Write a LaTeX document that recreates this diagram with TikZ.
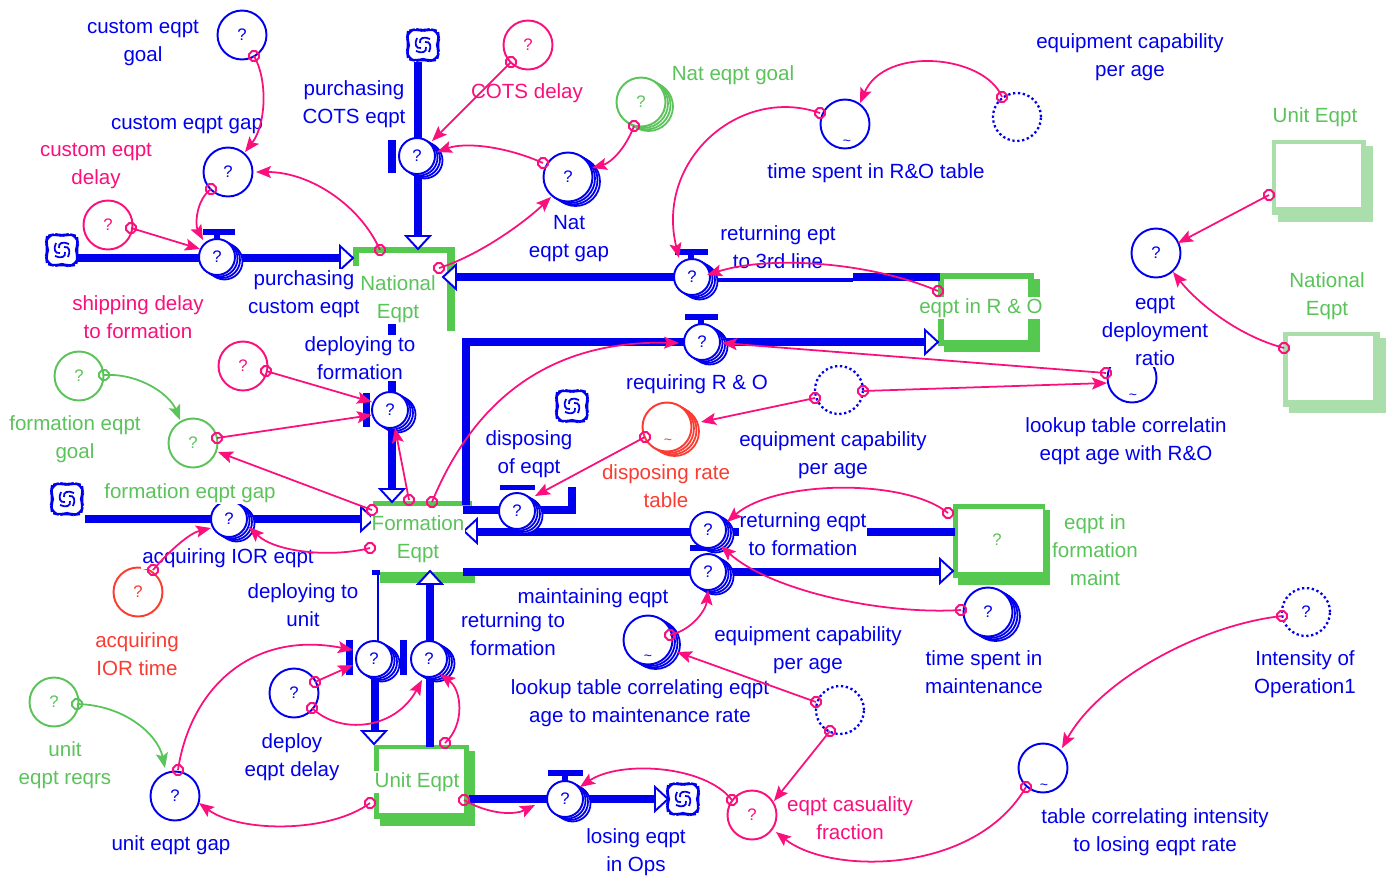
\documentclass[tikz,border=0pt]{standalone}
\usepackage{fontspec}
\setmainfont{Liberation Sans}
\usetikzlibrary{arrows.meta,shapes.symbols,shapes.geometric}
\definecolor{vblue}{RGB}{0,0,238}
\definecolor{vpink}{RGB}{250,15,125}
\definecolor{vgreen}{RGB}{85,200,80}
\definecolor{tgreen}{RGB}{90,195,90}
\definecolor{vred}{RGB}{250,60,50}
\definecolor{ghost}{RGB}{170,222,170}
\newcommand{\lblfont}{\fontsize{11.7}{15.9}\selectfont}
\newcommand{\qfont}{\fontsize{9.5}{10}\selectfont}
\newcommand{\tfont}{\fontsize{8}{8}\selectfont}
\tikzset{
  auxc/.style={circle,draw=#1,text=#1,line width=1.1pt,fill=white,minimum size=0.98cm,inner sep=0pt,font=\qfont},
  valvec/.style={circle,draw=vblue,text=vblue,line width=1.1pt,fill=white,minimum size=0.72cm,inner sep=0pt,font=\qfont},
  dotc/.style={circle,draw=vblue,text=vblue,line width=1.3pt,dash pattern=on 1.3pt off 1.5pt,minimum size=0.96cm,inner sep=0pt,font=\qfont},
  shadowc/.style={circle,draw=#1,line width=1pt,fill=white,inner sep=0pt},
  lbl/.style={align=center,font=\lblfont,text=#1,fill=white,inner sep=0.6pt},
  pipe/.style={draw=vblue,line width=4.6pt},
  conn/.style={draw=#1,line width=1pt,-{Stealth[length=0.3cm,width=0.24cm,inset=0.06cm]}},
  orig/.style={regular polygon,regular polygon sides=8,draw=#1,line width=1.1pt,minimum size=0.21cm,inner sep=0pt},
  tild/.style={font=\tfont,text=#1,inner sep=0pt},
  parrow/.pic={\draw[vblue,line width=1.1pt,fill=white,line join=miter] (-13,-12) -- (0,0) -- (-13,12) -- cycle;},
  cloudp/.pic={\draw[vblue,line width=1.2pt,fill=white,rounded corners=4pt] (-15,-14) -- (-7,-16) -- (0,-14) -- (7,-16) -- (15,-14) -- (16,-6) -- (14,0) -- (16,7) -- (14,15) -- (6,16) -- (0,14) -- (-7,16) -- (-15,14) -- (-16,6) -- (-14,0) -- (-16,-7) -- cycle;
    \foreach \ang in {0,90,180,270}{\draw[vblue,line width=1pt,rotate=\ang] (2,-3) .. controls (7,-4) and (9,1) .. (6,7);}},
}
\newcommand{\stk}[4]{\foreach \xa/\ya in {7.5/4.5,5/3,2.5/1.5}{\node[shadowc=#3,minimum size=#4] at (#1+\xa,#2+\ya) {};}}
\newcommand{\conx}[5][vpink]{\coordinate (#2s) at (#3);\coordinate (#2e) at (#5);\draw[conn=#1] (#2s) #4 (#2e);\node[orig=#1] (#2o) at (#2s) {};}

\begin{document}
\begin{tikzpicture}[x=0.02cm,y=-0.02cm]
\useasboundingbox (0,0) rectangle (1400,880);
\fill[white] (0,0) rectangle (1400,880);

% ---------- stocks ----------
% National Eqpt
\fill[vgreen] (353,247) rectangle (452,253);
\fill[vgreen] (447,247) rectangle (455,331);
\fill[vgreen] (353,247) rectangle (359,266);
% eqpt in R & O
\fill[vgreen] (938,273) rectangle (1034,346);
\fill[vgreen] (944,279) rectangle (1040,352);
\fill[white] (944,279) rectangle (1028,340);
% Formation Eqpt
\fill[vgreen] (373,501) rectangle (472,506);
\fill[vgreen] (380,572) rectangle (475,583);
% eqpt in formation maint
\fill[vgreen] (953,504) rectangle (1045,578);
\fill[vgreen] (958,510) rectangle (1050,585);
\fill[white] (958,509) rectangle (1043,572);
\node[text=tgreen,font=\qfont] (smaintq) at (997,540) {?};
% Unit Eqpt
\fill[vgreen] (374,745) rectangle (469,819);
\fill[vgreen] (380,751) rectangle (475,826);
\fill[white] (379,749) rectangle (464,813);
% ghost Unit Eqpt
\fill[ghost] (1272,140) rectangle (1366,215);
\fill[ghost] (1278,146) rectangle (1373,222);
\fill[white] (1276,144) rectangle (1361,207);
% ghost National Eqpt
\fill[ghost] (1283,332) rectangle (1380,407);
\fill[ghost] (1289,338) rectangle (1386,413);
\fill[white] (1288,336) rectangle (1373,400);

% ---------- pipes ----------
\draw[pipe] (78,258) -- (340,258); \pic at (353,258) {parrow};
\draw[pipe] (418,62) -- (418,237); \pic[rotate=-90] at (418,249) {parrow};
\draw[pipe] (455,277) -- (717,277);
\draw[vblue,line width=2.8pt] (717,280) -- (853,280);
\draw[pipe] (853,277) -- (940,277);
\pic[rotate=180] at (443,277) {parrow};
\draw[pipe] (466,505) -- (466,342) -- (926,342); \pic at (938,342) {parrow};
\draw[pipe] (392,319) -- (392,489); \pic[rotate=-90] at (392,502) {parrow};
\draw[pipe] (85,519) -- (362,519); \pic at (374,519) {parrow};
\draw[pipe] (463,510) -- (572,510) -- (572,487);
\draw[pipe] (477,532) -- (955,532); \pic[rotate=180] at (464,531) {parrow};
\draw[pipe] (463,572) -- (941,572); \pic at (953,571) {parrow};
\draw[vblue,line width=1.3pt] (378,573) -- (378,641);
\fill[vblue] (372,570) rectangle (380,575);
\draw[pipe] (375,677) -- (375,731); \pic[rotate=-90] at (374,744) {parrow};
\draw[pipe] (430,747) -- (430,584); \pic[rotate=90] at (430,571) {parrow};
\draw[pipe] (469,799) -- (655,799); \pic at (668,799) {parrow};

% ---------- clouds ----------
\pic at (62,250) {cloudp};
\pic at (423,45) {cloudp};
\pic at (67,499) {cloudp};
\pic at (572,406) {cloudp};
\pic at (683,799) {cloudp};

% ---------- valve bars ----------
\fill[vblue] (203,229) rectangle (235,235); \fill[vblue] (214,235) rectangle (220,242);
\fill[vblue] (388,140) rectangle (396,173);
\fill[vblue] (675,249) rectangle (708,255); \fill[vblue] (688,255) rectangle (694,261);
\fill[vblue] (685,314) rectangle (718,320); \fill[vblue] (698,320) rectangle (704,326);
\fill[vblue] (363,393) rectangle (370,427);
\fill[vblue] (500,485) rectangle (535,490);
\fill[vblue] (690,503) rectangle (725,509);
\fill[vblue] (690,545) rectangle (725,551);
\fill[vblue] (346,640) rectangle (353,675);
\fill[vblue] (400,640) rectangle (407,675);
\fill[vblue] (548,770) rectangle (583,776); \fill[vblue] (562,776) rectangle (568,782);

% ---------- valves ----------
\stk{217}{257}{vblue}{0.72cm} \node[valvec] (v1) at (217,257) {?};
\stk{417}{156}{vblue}{0.72cm} \node[valvec] (v2) at (417,156) {?};
\stk{692}{277}{vblue}{0.72cm} \node[valvec] (v3) at (692,277) {?};
\stk{702}{342}{vblue}{0.72cm} \node[valvec] (v4) at (702,342) {?};
\stk{390}{410}{vblue}{0.72cm} \node[valvec] (v5) at (390,410) {?};
\stk{229}{519}{vblue}{0.72cm} \node[valvec] (v6) at (229,519) {?};
\stk{517}{511}{vblue}{0.72cm} \node[valvec] (v7) at (517,511) {?};
\stk{708}{530}{vblue}{0.72cm} \node[valvec] (v8) at (708,530) {?};
\stk{708}{572}{vblue}{0.72cm} \node[valvec] (v9) at (708,572) {?};
\stk{374}{659}{vblue}{0.72cm} \node[valvec] (v10) at (374,659) {?};
\stk{429}{659}{vblue}{0.72cm} \node[valvec] (v11) at (429,659) {?};
\stk{565}{799}{vblue}{0.72cm} \node[valvec] (v12) at (565,799) {?};

% ---------- auxiliaries ----------
\node[auxc=vblue] (a1) at (242,35) {?};
\node[auxc=vblue] (a2) at (228,172) {?};
\node[auxc=vpink] (a3) at (108,225) {?};
\node[auxc=vpink] (a4) at (528,45) {?};
\stk{568}{177}{vblue}{0.98cm} \node[auxc=vblue] (a5) at (568,177) {?};
\stk{641}{102}{tgreen}{0.98cm} \node[auxc=tgreen] (a6) at (641,102) {?};
\node[auxc=vblue] (a7) at (845,124) {}; \node[tild=vblue] at (847,143) {\textasciitilde};
\node[dotc] (a8) at (1017,117) {};
\node[auxc=vblue] (a9) at (1156,253) {?};
\node[auxc=vblue] (a10) at (1132,378) {}; \node[tild=vblue] at (1133,397) {\textasciitilde};
\node[dotc] (a11) at (839,390) {};
\stk{667}{427}{vred}{0.98cm} \node[auxc=vred] (a12) at (667,427) {}; \node[tild=vred] at (668,442) {\textasciitilde};
\node[auxc=tgreen] (a13) at (79,376) {?};
\node[auxc=tgreen] (a14) at (193,443) {?};
\node[auxc=vpink] (a15) at (243,366) {?};
\node[auxc=vred] (a16) at (138,592) {?};
\stk{988}{612}{vblue}{0.98cm} \node[auxc=vblue] (a17) at (988,612) {?};
\stk{648}{640}{vblue}{0.98cm} \node[auxc=vblue] (a18) at (648,640) {}; \node[tild=vblue] at (648,658) {\textasciitilde};
\node[dotc] (a19) at (840,710) {};
\node[auxc=vpink] (a20) at (752,815) {?};
\node[auxc=vblue] (a21) at (1043,768) {}; \node[tild=vblue] at (1044,787) {\textasciitilde};
\node[dotc] (a22) at (1306,612) {?};
\node[auxc=tgreen] (a23) at (54,702) {?};
\node[auxc=vblue] (a24) at (175,796) {?};
\node[auxc=vblue] (a25) at (294,693) {?};

% ---------- labels ----------
\node[lbl=vblue] (l1) at (143,43) {custom eqpt\\goal};
\node[lbl=vblue] (l2) at (187,125) {custom eqpt gap};
\node[lbl=vpink] (l3) at (96,166) {custom eqpt\\delay};
\node[lbl=vpink] (l4) at (138,317) {shipping delay\\to formation};
\node[lbl=vblue] (l5) at (304,294) {purchasing\\custom eqpt};
\node[lbl=vblue] (l6) at (354,104) {purchasing\\COTS eqpt};
\node[lbl=vpink] (l7) at (527,93) {COTS delay};
\node[lbl=tgreen] (l8) at (733,75) {Nat eqpt goal};
\node[lbl=vblue] (l9) at (569,239) {Nat\\eqpt gap};
\node[lbl=tgreen] (l10) at (398,299) {National\\Eqpt};
\node[lbl=vblue] (l11) at (876,173) {time spent in R\&O table};
\node[lbl=vblue] (l12) at (1130,57) {equipment capability\\per age};
\node[lbl=vblue] (l13) at (778,247) {returning ept\\to 3rd line};
\node[lbl=tgreen] (l14) at (981,308) {eqpt in R \& O};
\node[lbl=tgreen] (l15) at (1315,117) {Unit Eqpt};
\node[lbl=tgreen] (l16) at (1327,296) {National\\Eqpt};
\node[lbl=vblue] (l17) at (1155,331) {eqpt\\deployment\\ratio};
\node[lbl=vblue] (l18) at (1126,441) {lookup table correlatin\\eqpt age with R\&O};
\node[lbl=vblue] (l19) at (697,384) {requiring R \& O};
\node[lbl=vblue] (l20) at (529,454) {disposing\\of eqpt};
\node[lbl=vred] (l21) at (666,486) {disposing rate\\table};
\node[lbl=vblue] (l22) at (833,455) {equipment capability\\per age};
\node[lbl=vblue] (l23) at (360,358) {deploying to\\formation};
\node[lbl=tgreen] (l24) at (75,439) {formation eqpt\\goal};
\node[lbl=tgreen] (l25) at (190,493) {formation eqpt gap};
\node[lbl=vblue] (l26) at (228,558) {acquiring IOR eqpt};
\node[lbl=tgreen] (l27) at (418,539) {Formation\\Eqpt};
\node[lbl=vblue] (l28) at (803,534) {returning eqpt\\to formation};
\node[lbl=tgreen] (l29) at (1095,550) {eqpt in\\formation\\maint};
\node[lbl=vblue] (l30) at (593,598) {maintaining eqpt};
\node[lbl=vblue] (l31) at (303,605) {deploying to\\unit};
\node[lbl=vblue] (l32) at (513,634) {returning to\\formation};
\node[lbl=vred] (l33) at (137,654) {acquiring\\IOR time};
\node[lbl=vblue] (l34) at (808,650) {equipment capability\\per age};
\node[lbl=vblue] (l35) at (984,672) {time spent in\\maintenance};
\node[lbl=vblue] (l36) at (640,703) {lookup table correlating eqpt\\age to maintenance rate};
\node[lbl=vblue] (l37) at (1305,674) {Intensity of\\Operation1};
\node[lbl=tgreen] (l38) at (65,765) {unit\\eqpt reqrs};
\node[lbl=vblue] (l39) at (292,757) {deploy\\eqpt delay};
\node[lbl=tgreen] (l40) at (417,782) {Unit Eqpt};
\node[lbl=vblue] (l41) at (171,845) {unit eqpt gap};
\node[lbl=vblue] (l42) at (636,852) {losing eqpt\\in Ops};
\node[lbl=vpink] (l43) at (850,818) {eqpt casuality\\fraction};
\node[lbl=vblue] (l44) at (1155,832) {table correlating intensity\\to losing eqpt rate};

% ---------- connectors ----------
\conx{c1}{254,56}{.. controls (268,80) and (266,125) ..}{245,152}
\conx{c2}{211,189}{.. controls (196,200) and (195,225) ..}{203,240}
\conx{c3}{131,228}{--}{200,249}
\conx{c4}{380,250}{.. controls (360,205) and (310,172) ..}{256,172}
\conx{c5}{511,62}{--}{432,141}
\conx{c6}{543,163}{.. controls (505,146) and (465,142) ..}{437,152}
\conx{c7}{634,126}{.. controls (625,150) and (610,163) ..}{592,168}
\conx{c8}{439,268}{.. controls (480,255) and (525,222) ..}{551,197}
\conx{c9}{1002,97}{.. controls (985,55) and (885,45) ..}{860,103}
\conx{c10}{820,113}{.. controls (740,85) and (655,160) ..}{679,258}
\conx{c11}{938,291}{.. controls (870,262) and (770,255) ..}{707,275}
\conx{c12}{1106,373}{--}{722,343}
\conx{c13}{863,391}{--}{1107,383}
\conx{c14}{432,502}{.. controls (470,410) and (540,340) ..}{679,343}
\conx{c15}{815,398}{--}{701,422}
\conx{c16}{645,437}{--}{535,496}
\conx{c17}{1269,195}{--}{1178,243}
\conx{c18}{1284,348}{.. controls (1235,335) and (1195,300) ..}{1173,272}
\conx[tgreen]{c19}{104,375}{.. controls (140,373) and (170,395) ..}{180,420}
\conx{c20}{217,438}{--}{372,415}
\conx{c21}{266,371}{--}{372,402}
\conx{c22}{372,510}{--}{218,452}
\conx{c23}{409,500}{--}{395,428}
\conx{c24}{370,548}{.. controls (330,558) and (275,552) ..}{249,527}
\conx{c25}{153,570}{.. controls (170,550) and (190,533) ..}{211,528}
\conx{c26}{948,513}{.. controls (905,478) and (775,480) ..}{727,522}
\conx{c27}{961,610}{.. controls (880,615) and (770,590) ..}{721,546}
\conx{c28}{670,635}{.. controls (692,630) and (706,610) ..}{708,590}
\conx{c29}{816,702}{--}{677,652}
\conx{c30}{830,731}{--}{774,801}
\conx{c31}{1282,616}{.. controls (1200,625) and (1100,680) ..}{1062,748}
\conx{c32}{1026,787}{.. controls (975,875) and (830,875) ..}{776,832}
\conx{c33}{732,800}{.. controls (705,765) and (620,760) ..}{580,787}
\conx{c34}{464,800}{.. controls (490,815) and (515,815) ..}{535,805}
\conx[tgreen]{c35}{77,704}{.. controls (125,705) and (158,735) ..}{165,768}
\conx{c36}{178,770}{.. controls (190,690) and (250,630) ..}{353,650}
\conx{c37}{370,803}{.. controls (330,833) and (240,833) ..}{199,803}
\conx{c38}{315,682}{--}{353,665}
\conx{c39}{312,708}{.. controls (340,735) and (395,730) ..}{422,680}
\conx{c40}{445,743}{.. controls (465,725) and (462,690) ..}{440,674}
\end{tikzpicture}
\end{document}
